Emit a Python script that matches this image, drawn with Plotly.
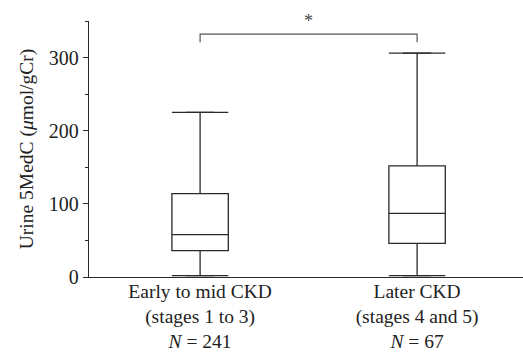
import plotly.graph_objects as go

# Summary statistics of urine 5MedC (µmol/gCr) per CKD group
groups = ["Early to mid CKD<br>(stages 1 to 3)<br><i>N</i> = 241",
          "Later CKD<br>(stages 4 and 5)<br><i>N</i> = 67"]
positions = [0, 1]
whisker_low = [2, 2]
q1 = [36, 46]
median = [58, 87]
q3 = [114, 152]
whisker_high = [225, 306]

# Significance bracket between the two groups
bracket_y = 332
bracket_drop = 321
sig_label = "*"

box_width = 0.26
line_col = "#2a2a2a"
font_family = "Liberation Serif, Times New Roman, serif"

fig = go.Figure()

for i in range(len(positions)):
    fig.add_trace(go.Box(
        x=[positions[i]],
        q1=[q1[i]], median=[median[i]], q3=[q3[i]],
        lowerfence=[whisker_low[i]], upperfence=[whisker_high[i]],
        width=box_width,
        fillcolor="rgba(0,0,0,0)",
        line=dict(color=line_col, width=1.3),
        boxpoints=False,
        hoverinfo="skip",
        showlegend=False,
    ))

# Whisker caps as wide as the boxes
cap_x, cap_y = [], []
for i, p in enumerate(positions):
    for v in (whisker_low[i], whisker_high[i]):
        cap_x += [p - box_width / 2, p + box_width / 2, None]
        cap_y += [v, v, None]
fig.add_trace(go.Scatter(x=cap_x, y=cap_y, mode="lines",
                         line=dict(color=line_col, width=1.3),
                         hoverinfo="skip", showlegend=False))

# Bracket and asterisk
fig.add_trace(go.Scatter(
    x=[positions[0], positions[0], positions[1], positions[1]],
    y=[bracket_drop, bracket_y, bracket_y, bracket_drop],
    mode="lines", line=dict(color="#555555", width=1.2),
    hoverinfo="skip", showlegend=False))
fig.add_annotation(x=(positions[0] + positions[1]) / 2, y=bracket_y,
                   yshift=13, text=sig_label, showarrow=False,
                   font=dict(family=font_family, size=18, color="#444444"))

fig.update_layout(
    width=523, height=353,
    margin=dict(l=89, r=0, t=21, b=76),
    paper_bgcolor="white", plot_bgcolor="white",
    font=dict(family=font_family, size=20, color="#222222"),
)
fig.update_xaxes(
    range=[-0.512, 1.488],
    tickvals=positions, ticktext=groups,
    tickfont=dict(size=19.5),
    ticklabelstandoff=-4,
    automargin=False,
    showline=True, linecolor=line_col, linewidth=1.3,
    ticks="", showgrid=False, zeroline=False,
)
fig.update_yaxes(
    range=[0, 350],
    tickvals=[0, 100, 200, 300],
    tickfont=dict(size=20),
    automargin=False,
    showline=True, linecolor=line_col, linewidth=1.3,
    ticks="outside", ticklen=5, tickcolor=line_col, tickwidth=1.2,
    minor=dict(tickvals=[50, 150, 250, 350], ticks="outside", ticklen=3,
               tickcolor=line_col, tickwidth=1.2),
    showgrid=False, zeroline=False,
    title=dict(text="Urine 5MedC (<i>μ</i>mol/gCr)", standoff=10,
               font=dict(size=19.5)),
)

fig.write_html("out.html")
